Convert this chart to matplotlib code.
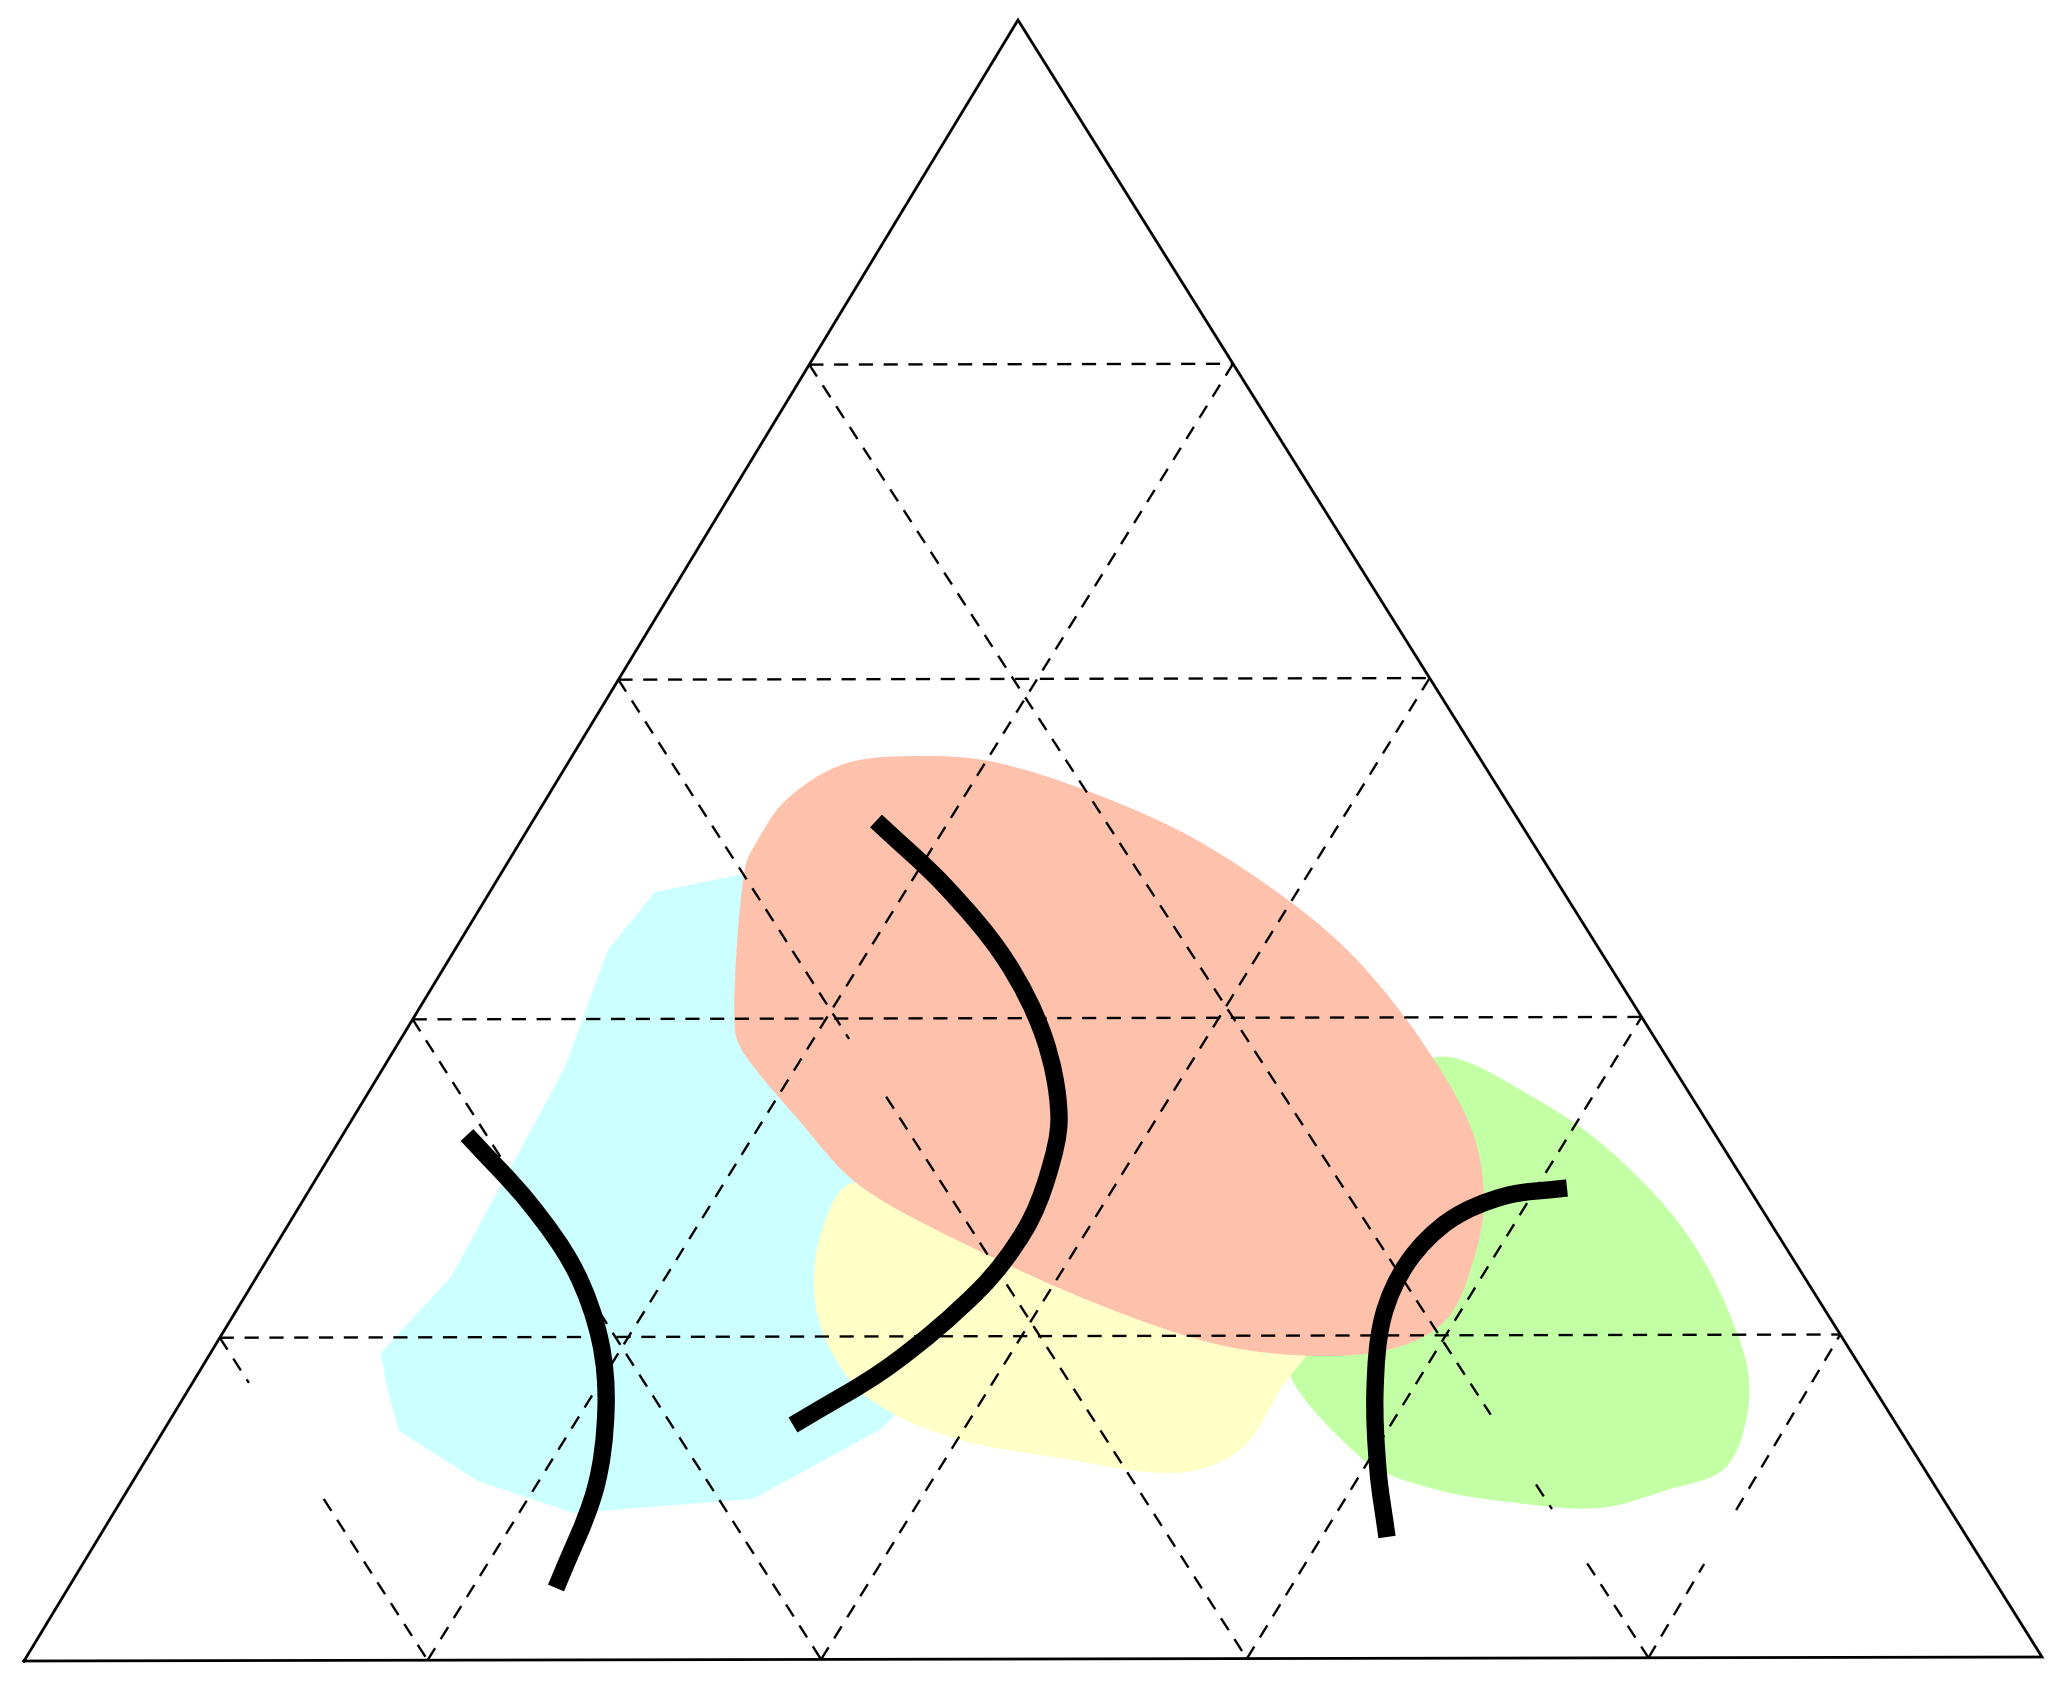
import matplotlib
matplotlib.use("Agg")
import matplotlib.pyplot as plt
from matplotlib.path import Path
from matplotlib.patches import PathPatch
import numpy as np

# Canvas units = pixels of the original drawing (x right, y down)
# Triangle corners: bottom-left, bottom-right, apex
corner_bl = (24, 1661)
corner_br = (2042, 1657)
corner_top = (1018, 20)

# Where the grid meets the sides (hand drawn, so not exactly 20 % steps)
edge_levels = [0.197, 0.391, 0.598, 0.790]   # up the left / right side
base_levels = [0.200, 0.395, 0.606, 0.805]   # along the base

# Visible pieces of grid lines that are partly erased (t along the line)
grid_gaps = {
    ("a", 0): [(0.0, 0.14), (0.50, 1.0)],
    ("a", 2): [(0.0, 0.367), (0.426, 1.0)],
    ("a", 3): [(0.0, 0.812), (0.866, 0.885), (0.927, 1.0)],
    ("b", 0): [(0.0, 0.29), (0.457, 1.0)],
}

# Coloured fields (outline points)
cyan_x = [655, 744, 800, 880, 960, 1010, 896, 881, 753, 574, 478, 399, 387, 381, 451, 549, 565, 592, 608]
cyan_y = [892, 874, 880, 960, 1150, 1380, 1414, 1429, 1499, 1513, 1481, 1431, 1388, 1353, 1277, 1097, 1067, 993, 950]

green_x = [1437, 1533, 1617, 1693, 1743, 1748, 1725, 1667, 1600, 1517, 1430, 1360, 1282, 1330, 1400]
green_y = [1057, 1097, 1157, 1243, 1350, 1410, 1468, 1490, 1508, 1503, 1488, 1457, 1352, 1250, 1120]

yellow_x = [852, 822, 814, 827, 867, 950, 1060, 1177, 1240, 1280, 1320, 1200, 1000]
yellow_y = [1183, 1230, 1290, 1343, 1397, 1437, 1458, 1473, 1450, 1390, 1320, 1260, 1190]

salmon_x = [752, 785, 844, 919, 994, 1093, 1193, 1292, 1357, 1421, 1471, 1484, 1472, 1446,
            1395, 1320, 1220, 1100, 969, 859, 797, 745, 735, 737, 745]
salmon_y = [850, 801, 764, 756, 762, 793, 838, 903, 960, 1040, 1128, 1200, 1265, 1320,
            1348, 1356, 1345, 1305, 1246, 1185, 1118, 1055, 1030, 944, 868]

# Thick black boundary curves
curve1_x = [467, 530, 575, 600, 606, 595, 556]
curve1_y = [1135, 1204, 1270, 1340, 1409, 1490, 1588]

curve2_x = [876, 945, 1005, 1044, 1059, 1048, 1025, 980, 891, 793]
curve2_y = [821, 886, 959, 1037, 1116, 1175, 1230, 1289, 1365, 1425]

curve3_x = [1567, 1505, 1450, 1408, 1383, 1375, 1378, 1387]
curve3_y = [1188, 1196, 1220, 1262, 1317, 1390, 1470, 1537]


def smooth_path(xs, ys, closed):
    # Catmull-Rom (chord-scaled tangents) through the points, as cubic Bezier segments
    p = np.column_stack([xs, ys]).astype(float)
    n = len(p)
    if closed:
        nxt = np.roll(p, -1, axis=0)
        prv = np.roll(p, 1, axis=0)
    else:
        nxt = np.vstack([p[1:], p[-1:]])
        prv = np.vstack([p[:1], p[:-1]])
    d_next = np.linalg.norm(nxt - p, axis=1)
    d_prev = np.linalg.norm(p - prv, axis=1)
    tang = (nxt - prv) / np.maximum(d_next + d_prev, 1e-9)[:, None]
    verts = [p[0]]
    codes = [Path.MOVETO]
    for i in range(n if closed else n - 1):
        j = (i + 1) % n
        d = np.linalg.norm(p[j] - p[i])
        verts += [p[i] + tang[i] * d / 3, p[j] - tang[j] * d / 3, p[j]]
        codes += [Path.CURVE4] * 3
    if closed:
        verts.append(p[0])
        codes.append(Path.CLOSEPOLY)
    return Path(verts, codes)


bl = np.array(corner_bl, float)
br = np.array(corner_br, float)
top = np.array(corner_top, float)


def left_pt(c):
    return bl + (top - bl) * c


def right_pt(c):
    return br + (top - br) * c


def base_pt(f):
    return bl + (br - bl) * f


fig = plt.figure(figsize=(20.59, 16.85), dpi=100)
ax = fig.add_axes([0, 0, 1, 1])
ax.set_xlim(0, 2059)
ax.set_ylim(1685, 0)
ax.axis("off")

ax.fill(cyan_x, cyan_y, color="#ccffff", lw=0, zorder=1)
ax.add_patch(PathPatch(smooth_path(green_x, green_y, True), facecolor="#c3ffa5", lw=0, zorder=2))
ax.add_patch(PathPatch(smooth_path(yellow_x, yellow_y, True), facecolor="#ffffc8", lw=0, zorder=3))
ax.add_patch(PathPatch(smooth_path(salmon_x, salmon_y, True), facecolor="#fdc1ac", lw=0, zorder=4))

# dashed grid
lines = {}
for i, c in enumerate(edge_levels):
    lines[("c", i)] = (left_pt(c), right_pt(c))
    lines[("a", i)] = (left_pt(c), base_pt(base_levels[i]))
    lines[("b", i)] = (base_pt(base_levels[3 - i]), right_pt(c))
for key, (p0, p1) in lines.items():
    for t0, t1 in grid_gaps.get(key, [(0.0, 1.0)]):
        q0 = p0 + (p1 - p0) * t0
        q1 = p0 + (p1 - p0) * t1
        ax.plot([q0[0], q1[0]], [q0[1], q1[1]], color="black", lw=1.7,
                linestyle=(0, (6, 4.5)), zorder=5)

# triangle frame
tri_x = [corner_bl[0], corner_br[0], corner_top[0], corner_bl[0]]
tri_y = [corner_bl[1], corner_br[1], corner_top[1], corner_bl[1]]
ax.plot(tri_x, tri_y, color="black", lw=2.0, solid_joinstyle="miter", zorder=6)

for cx, cy in [(curve1_x, curve1_y), (curve2_x, curve2_y), (curve3_x, curve3_y)]:
    ax.add_patch(PathPatch(smooth_path(cx, cy, False), facecolor="none", edgecolor="black",
                           lw=12.5, capstyle="butt", joinstyle="round", zorder=7))

fig.savefig("out.png", dpi=100)
plt.close(fig)
